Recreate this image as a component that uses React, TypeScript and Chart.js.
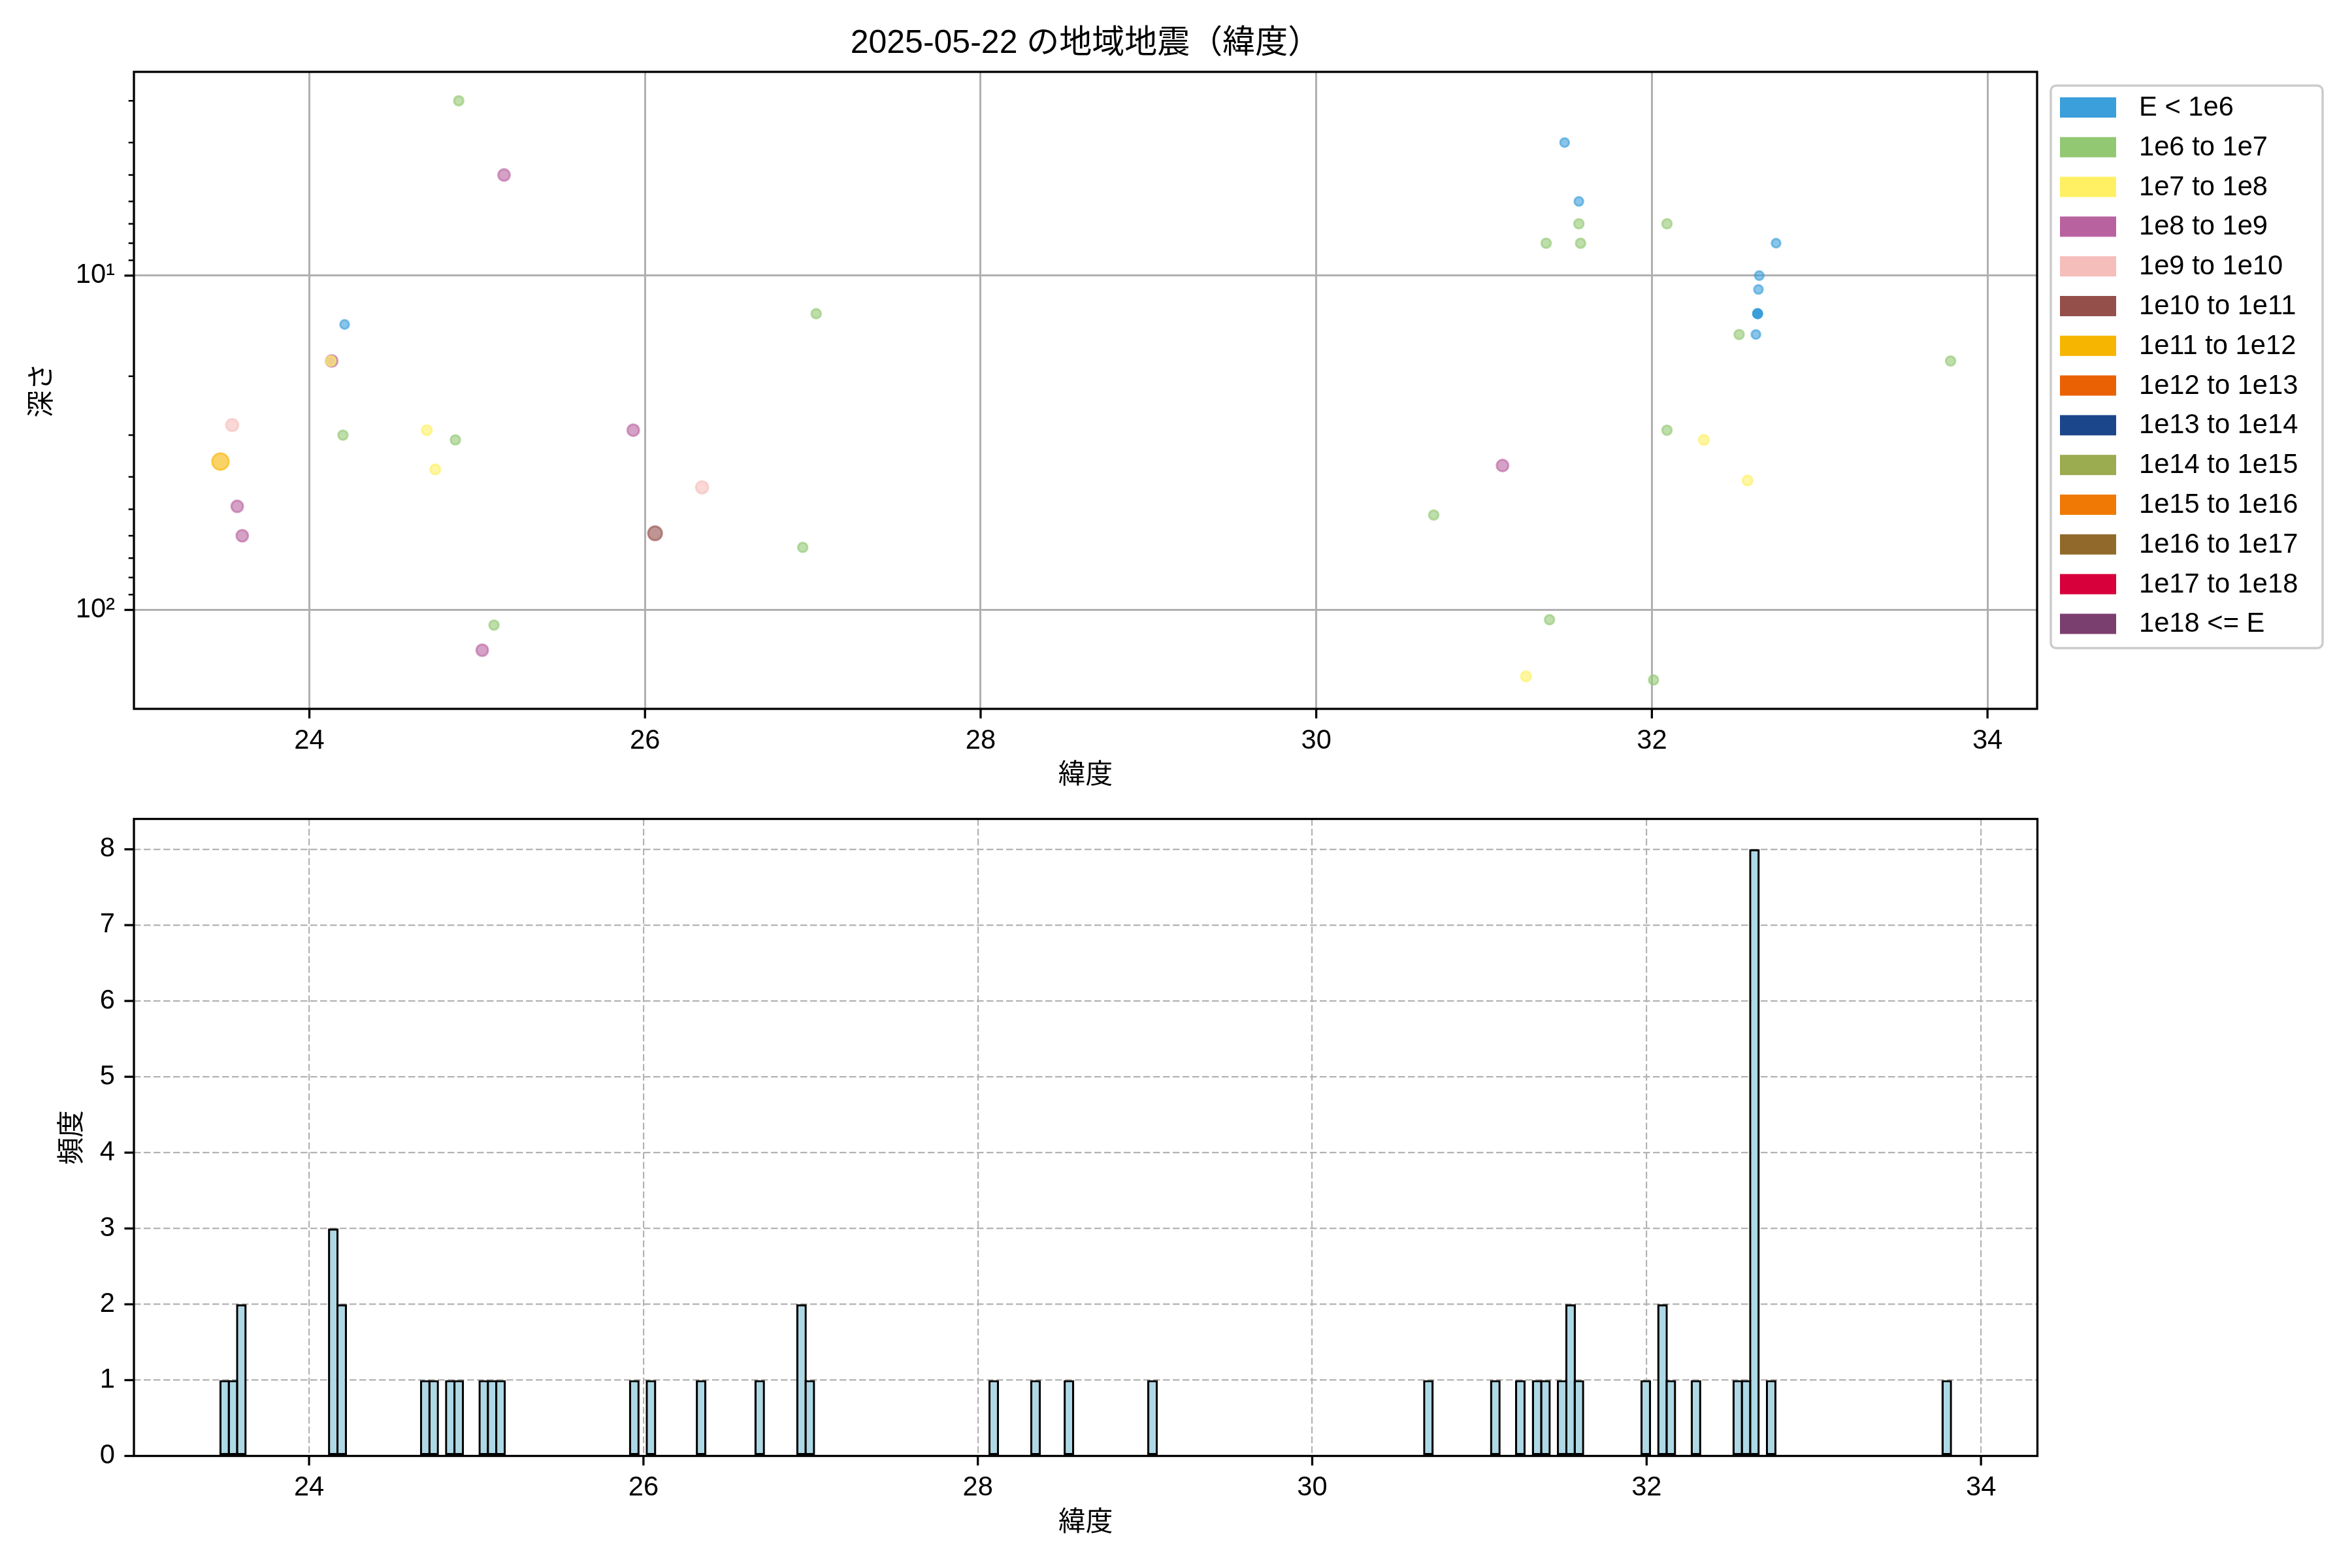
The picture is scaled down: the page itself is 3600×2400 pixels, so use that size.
import React, { useEffect, useRef } from 'react';
import { Chart, registerables } from 'chart.js';

Chart.register(...registerables);

const FONT = '"Liberation Sans", "Noto Sans CJK JP", sans-serif';

// ---------- text ----------
const TITLE = '2025-05-22 の地域地震（緯度）';
const X_LABEL = '緯度';
const Y_LABEL_TOP = '深さ';
const Y_LABEL_BOTTOM = '頻度';

// ---------- energy classes (legend) ----------
const ENERGY_CLASSES = [
  'E < 1e6', '1e6 to 1e7', '1e7 to 1e8', '1e8 to 1e9', '1e9 to 1e10',
  '1e10 to 1e11', '1e11 to 1e12', '1e12 to 1e13', '1e13 to 1e14', '1e14 to 1e15',
  '1e15 to 1e16', '1e16 to 1e17', '1e17 to 1e18', '1e18 <= E',
];
const CLASS_COLORS = [
  '#3a9fdb', '#93c873', '#fef062', '#b962a0', '#f5bebb',
  '#944f4b', '#f6b500', '#ea6103', '#1b468b', '#9bab4f',
  '#ef7904', '#916a2b', '#d7003b', '#7b3f6f',
];
const CLASS_RADIUS = [6.8, 7.3, 7.7, 9.0, 9.4, 10.7, 12.7, 13.7, 14.7, 15.7, 16.7, 17.7, 18.7, 19.7];

// ---------- events with depth (scatter) ----------
const eqLat = [
  23.47, 23.54, 23.57, 23.60, 24.133, 24.128, 24.21, 24.20, 24.70, 24.75,
  24.87, 24.89, 25.03, 25.10, 25.16, 25.93, 26.06, 26.34, 26.94, 27.02,
  30.70, 31.11, 31.25, 31.37, 31.39, 31.48, 31.565, 31.565, 31.575, 32.01,
  32.09, 32.09, 32.31, 32.52, 32.57, 32.62, 32.64, 32.635, 32.63, 32.63,
  32.63, 32.63, 32.63, 32.74, 33.78,
];
const eqDepth = [
  36, 28, 49, 60, 18, 18, 14, 30, 29, 38,
  31, 3.0, 132, 111, 5.0, 29, 59, 43, 65, 13,
  52, 37, 158, 8.0, 107, 4.0, 6.0, 7.0, 8.0, 162,
  7.0, 29, 31, 15, 41, 15, 10, 11, 13, 13,
  13, 13, 13, 8.0, 18,
];
const eqClass = [
  6, 4, 3, 3, 3, 2, 0, 1, 2, 2,
  1, 1, 3, 1, 3, 3, 5, 4, 1, 1,
  1, 3, 2, 1, 1, 0, 0, 1, 1, 1,
  1, 1, 2, 1, 2, 0, 0, 0, 0, 0,
  0, 0, 0, 0, 1,
];

// ---------- histogram (all events, 0.05 deg bins) ----------
const HIST_START = 23.47;
const HIST_END = 33.82;
const BIN_WIDTH = 0.05;
const histBinLeft = [
  23.47, 23.52, 23.57, 24.12, 24.17, 24.67, 24.72, 24.82, 24.87, 25.02,
  25.07, 25.12, 25.92, 26.02, 26.32, 26.67, 26.92, 26.97, 28.07, 28.32,
  28.52, 29.02, 30.67, 31.07, 31.22, 31.32, 31.37, 31.47, 31.52, 31.57,
  31.97, 32.07, 32.12, 32.27, 32.52, 32.57, 32.62, 32.72, 33.77,
];
const histCount = [
  1, 1, 2, 3, 2, 1, 1, 1, 1, 1,
  1, 1, 1, 1, 1, 1, 2, 1, 1, 1,
  1, 1, 1, 1, 1, 1, 1, 1, 2, 1,
  1, 2, 1, 1, 1, 1, 8, 1, 1,
];

// ---------- ticks / ranges ----------
const X_TICKS = [24, 26, 28, 30, 32, 34];
const DEPTH_MAJOR = [10, 100];
const DEPTH_MINOR = [3, 4, 5, 6, 7, 8, 9, 20, 30, 40, 50, 60, 70, 80, 90];
const COUNT_TICKS = [0, 1, 2, 3, 4, 5, 6, 7, 8];
const TOP_X_RANGE = [22.9545, 34.2955];
const BOTTOM_X_RANGE = [22.9525, 34.3375];
const DEPTH_RANGE = [2.458, 197.7];
const COUNT_RANGE = [0, 8.4];

function rgba(hex: string, a: number) {
  const n = parseInt(hex.slice(1), 16);
  return `rgba(${(n >> 16) & 255},${(n >> 8) & 255},${n & 255},${a})`;
}

const tickFont = { family: FONT, size: 41.7, lineHeight: 1.2 };

function fixHeight(h: number) {
  return (s: any) => {
    s.height = h;
    s.paddingLeft = 0; s.paddingRight = 0; s.paddingTop = 0; s.paddingBottom = 0;
  };
}
function fixWidth(w: number) {
  return (s: any) => {
    s.width = w;
    s.paddingLeft = 0; s.paddingRight = 0; s.paddingTop = 0; s.paddingBottom = 0;
  };
}

const framePlugin = {
  id: 'frame',
  afterDraw(chart: any, _args: any, opts: any) {
    const { ctx, chartArea: a } = chart;
    const xs = chart.scales.x;
    const ys = chart.scales.y;
    ctx.save();
    ctx.strokeStyle = '#000';
    ctx.lineCap = 'butt';
    ctx.lineWidth = 3.3;
    for (const t of xs.ticks) {
      const px = xs.getPixelForValue(t.value);
      ctx.beginPath();
      ctx.moveTo(px, a.bottom);
      ctx.lineTo(px, a.bottom + 14.6);
      ctx.stroke();
    }
    for (const t of ys.ticks) {
      const py = ys.getPixelForValue(t.value);
      const minor = opts.minor && opts.minor.includes(t.value);
      ctx.lineWidth = minor ? 2.5 : 3.3;
      const len = minor ? 8.3 : 14.6;
      ctx.beginPath();
      ctx.moveTo(a.left - len, py);
      ctx.lineTo(a.left, py);
      ctx.stroke();
    }
    ctx.lineWidth = 3.3;
    ctx.strokeRect(a.left, a.top, a.right - a.left, a.bottom - a.top);

    if (opts.title) {
      ctx.fillStyle = '#000';
      ctx.font = `50px ${FONT}`;
      ctx.textAlign = 'center';
      ctx.textBaseline = 'middle';
      ctx.fillText(opts.title, (a.left + a.right) / 2, 67);
    }

    if (opts.legend) {
      const LX = 3139, LY = 131, LW = 416, LH = 861;
      ctx.beginPath();
      ctx.roundRect(LX, LY, LW, LH, 8);
      ctx.fillStyle = 'rgba(255,255,255,0.8)';
      ctx.fill();
      ctx.strokeStyle = '#cccccc';
      ctx.lineWidth = 3.5;
      ctx.stroke();
      ctx.font = `41.7px ${FONT}`;
      ctx.textAlign = 'left';
      ctx.textBaseline = 'middle';
      chart.data.datasets.forEach((ds: any, i: number) => {
        const cy = 164.5 + i * 60.8;
        ctx.fillStyle = CLASS_COLORS[i];
        ctx.fillRect(3153, cy - 15.5, 86, 31);
        ctx.fillStyle = '#000';
        ctx.fillText(ds.label, 3274, cy + 1);
      });
    }
    ctx.restore();
  },
};

function buildTopConfig(): any {
  const datasets = ENERGY_CLASSES.map((label, ci) => {
    const pts: { x: number; y: number }[] = [];
    eqLat.forEach((lat, i) => {
      if (eqClass[i] === ci) pts.push({ x: lat, y: eqDepth[i] });
    });
    return {
      label,
      data: pts,
      pointBackgroundColor: rgba(CLASS_COLORS[ci], 0.6),
      pointBorderColor: rgba(CLASS_COLORS[ci], 0.6),
      backgroundColor: rgba(CLASS_COLORS[ci], 0.6),
      borderColor: rgba(CLASS_COLORS[ci], 0.6),
      pointBorderWidth: 3,
      pointRadius: CLASS_RADIUS[ci],
      pointHoverRadius: CLASS_RADIUS[ci],
      showLine: false,
    };
  });
  return {
    type: 'scatter',
    data: { datasets },
    options: {
      animation: false,
      responsive: false,
      maintainAspectRatio: false,
      devicePixelRatio: 1,
      events: [],
      layout: { padding: { left: 0, top: 110, right: 482, bottom: 15 } },
      plugins: {
        legend: { display: false },
        title: { display: false },
        tooltip: { enabled: false },
        frame: { title: TITLE, legend: true, minor: DEPTH_MINOR },
      },
      scales: {
        x: {
          type: 'linear',
          min: TOP_X_RANGE[0],
          max: TOP_X_RANGE[1],
          z: 1,
          afterBuildTicks: (s: any) => { s.ticks = X_TICKS.map((v) => ({ value: v })); },
          afterFit: fixHeight(140),
          grid: { color: '#b0b0b0', lineWidth: 3, drawTicks: false },
          border: { display: false },
          ticks: { padding: 24, font: tickFont, color: '#000', autoSkip: false, maxRotation: 0, callback: (v: any) => String(v) },
          title: { display: true, text: X_LABEL, font: tickFont, color: '#000', padding: { top: 0, bottom: 12 } },
        },
        y: {
          type: 'logarithmic',
          reverse: true,
          min: DEPTH_RANGE[0],
          max: DEPTH_RANGE[1],
          z: 1,
          afterBuildTicks: (s: any) => {
            s.ticks = [...DEPTH_MINOR, ...DEPTH_MAJOR].sort((p, q) => p - q).map((v) => ({ value: v }));
          },
          afterFit: fixWidth(205),
          grid: {
            color: (c: any) => (c.tick && DEPTH_MAJOR.includes(c.tick.value) ? '#b0b0b0' : 'rgba(0,0,0,0)'),
            lineWidth: 3,
            drawTicks: false,
          },
          border: { display: false },
          ticks: {
            padding: 29,
            font: tickFont,
            color: '#000',
            autoSkip: false,
            callback: (v: any) => (v === 10 ? '10¹' : v === 100 ? '10²' : ''),
          },
          title: { display: true, text: Y_LABEL_TOP, font: tickFont, color: '#000', padding: { top: 40, bottom: 0 } },
        },
      },
    },
    plugins: [framePlugin],
  };
}

function buildBottomConfig(): any {
  const nBins = Math.round((HIST_END - HIST_START) / BIN_WIDTH);
  const counts = new Array(nBins).fill(0);
  histBinLeft.forEach((l, i) => {
    const idx = Math.round((l - HIST_START) / BIN_WIDTH);
    if (idx >= 0 && idx < nBins) counts[idx] += histCount[i];
  });
  const histData = counts.map((c, i) => ({ x: HIST_START + (i + 0.5) * BIN_WIDTH, y: c }));
  // widen each bar so that its edge is centred on the bin boundary (matplotlib style)
  const edgeW = 3.4;
  const binPx = (BIN_WIDTH * 2913.5) / (BOTTOM_X_RANGE[1] - BOTTOM_X_RANGE[0]);
  return {
    type: 'bar',
    data: {
      datasets: [{
        label: Y_LABEL_BOTTOM,
        data: histData,
        backgroundColor: '#add8e6',
        borderColor: '#000000',
        borderWidth: edgeW,
        borderSkipped: false,
        barPercentage: (binPx + edgeW) / binPx,
        categoryPercentage: 1,
      }],
    },
    options: {
      animation: false,
      responsive: false,
      maintainAspectRatio: false,
      devicePixelRatio: 1,
      events: [],
      layout: { padding: { left: 0, top: 13.5, right: 481.5, bottom: 31.5 } },
      plugins: {
        legend: { display: false },
        title: { display: false },
        tooltip: { enabled: false },
        frame: {},
      },
      scales: {
        x: {
          type: 'linear',
          min: BOTTOM_X_RANGE[0],
          max: BOTTOM_X_RANGE[1],
          offset: false,
          z: 1,
          afterBuildTicks: (s: any) => { s.ticks = X_TICKS.map((v) => ({ value: v })); },
          afterFit: fixHeight(140),
          grid: { color: '#b3b3b3', lineWidth: 2.2, drawTicks: false, offset: false },
          border: { display: false, dash: [10.5, 4.5] },
          ticks: { padding: 24, font: tickFont, color: '#000', autoSkip: false, maxRotation: 0, callback: (v: any) => String(v) },
          title: { display: true, text: X_LABEL, font: tickFont, color: '#000', padding: { top: 0, bottom: 12 } },
        },
        y: {
          type: 'linear',
          min: COUNT_RANGE[0],
          max: COUNT_RANGE[1],
          z: 1,
          afterBuildTicks: (s: any) => { s.ticks = COUNT_TICKS.map((v) => ({ value: v })); },
          afterFit: fixWidth(205),
          grid: { color: '#b3b3b3', lineWidth: 2.2, drawTicks: false },
          border: { display: false, dash: [10.5, 4.5] },
          ticks: { padding: 29, font: tickFont, color: '#000', autoSkip: false, callback: (v: any) => String(v) },
          title: { display: true, text: Y_LABEL_BOTTOM, font: tickFont, color: '#000', padding: { top: 86, bottom: 0 } },
        },
      },
    },
    plugins: [framePlugin],
  };
}

export default function App() {
  const topRef = useRef<HTMLCanvasElement>(null);
  const botRef = useRef<HTMLCanvasElement>(null);
  useEffect(() => {
    Chart.defaults.font.family = FONT;
    Chart.defaults.color = '#000';
    const c1 = new Chart(topRef.current as HTMLCanvasElement, buildTopConfig());
    const c2 = new Chart(botRef.current as HTMLCanvasElement, buildBottomConfig());
    return () => {
      c1.destroy();
      c2.destroy();
    };
  }, []);
  return (
    <div style={{ position: 'absolute', left: 0, top: 0, width: 3600, height: 2400, background: '#ffffff' }}>
      <canvas ref={topRef} width={3600} height={1240} style={{ position: 'absolute', left: 0, top: 0, width: 3600, height: 1240 }} />
      <canvas ref={botRef} width={3600} height={1160} style={{ position: 'absolute', left: 0, top: 1240, width: 3600, height: 1160 }} />
    </div>
  );
}
